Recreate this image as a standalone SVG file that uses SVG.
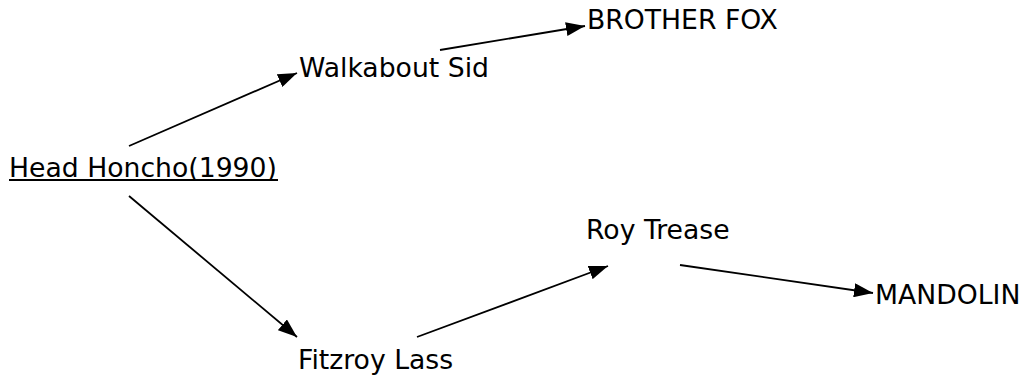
<svg xmlns="http://www.w3.org/2000/svg" width="1023" height="381" viewBox="0 0 1023 381">
<style>
text{font-family:"DejaVu Sans","Verdana",sans-serif;font-size:26.67px;fill:#000}
.c{stroke:#000;stroke-width:1.8;fill:none;marker-end:url(#ah)}
</style>
<defs>
<marker id="ah" markerUnits="userSpaceOnUse" viewBox="0 0 19 14" refX="19" refY="7" markerWidth="19" markerHeight="14" orient="auto">
<path d="M0,0 L19,7 L0,14 Z" fill="#000"/>
</marker>
</defs>
<rect width="1023" height="381" fill="#fff"/>
<g id="connectors">
<line class="c" x1="129" y1="146" x2="297" y2="73"/>
<line class="c" x1="440" y1="50" x2="585" y2="26"/>
<line class="c" x1="129" y1="196" x2="297" y2="337"/>
<line class="c" x1="417" y1="337" x2="608" y2="266"/>
<line class="c" x1="680" y1="265" x2="873" y2="293"/>
</g>
<g id="head-honcho"><text x="9" y="177">Head Honcho(1990)</text><line x1="9" y1="180" x2="278" y2="180" stroke="#000" stroke-width="2"/></g>
<g id="walkabout-sid"><text x="299" y="77">Walkabout Sid</text></g>
<g id="brother-fox"><text x="587" y="29">BROTHER FOX</text></g>
<g id="fitzroy-lass"><text x="298" y="369">Fitzroy Lass</text></g>
<g id="roy-trease"><text x="586" y="239">Roy Trease</text></g>
<g id="mandolin"><text x="875" y="304">MANDOLIN</text></g>
</svg>
